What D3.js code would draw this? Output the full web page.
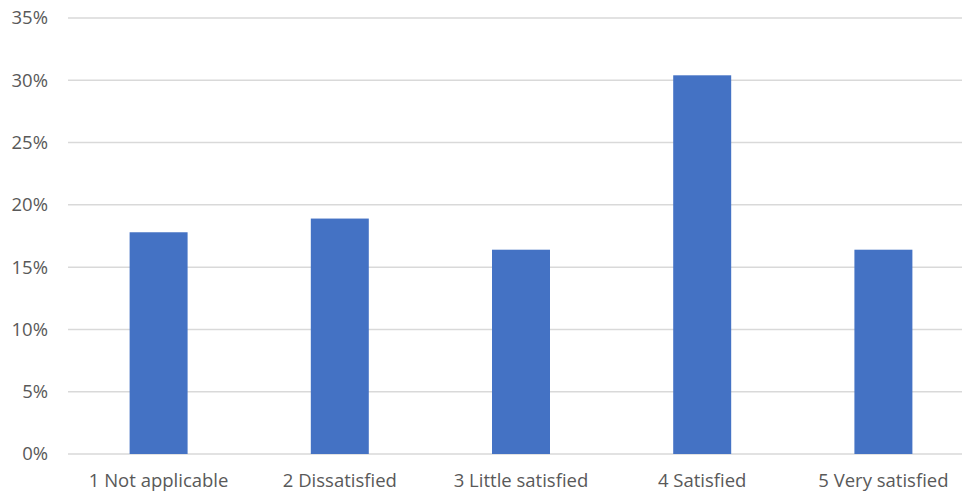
<!DOCTYPE html>
<html>
<head>
<meta charset="utf-8">
<script src="https://cdn.jsdelivr.net/npm/d3@7"></script>
<style>
  html, body { margin: 0; padding: 0; background: #fff; }
  svg { display: block; }
  text { font-family: "Open Sans", "Noto Sans", sans-serif; fill: #595959; }
</style>
</head>
<body>
<svg id="chart" width="962" height="495"></svg>
<script>
// Satisfaction responses, share of respondents
const categories = ["1 Not applicable", "2 Dissatisfied", "3 Little satisfied", "4 Satisfied", "5 Very satisfied"];
const shares = [0.178, 0.189, 0.164, 0.304, 0.164];
const yTicks = [0, 0.05, 0.10, 0.15, 0.20, 0.25, 0.30, 0.35];

const svg = d3.select("#chart");
const margin = { left: 68, right: -12, top: 18, bottom: 41 };
const W = 962, H = 495;
const fontSize = 18.5;

const x = d3.scaleBand()
  .domain(categories)
  .range([margin.left, W - margin.right])
  .paddingInner(0.68)
  .paddingOuter(0.34);

const y = d3.scaleLinear()
  .domain([0, 0.35])
  .range([H - margin.bottom, margin.top]);

// horizontal gridlines
svg.append("g")
  .selectAll("line")
  .data(yTicks)
  .join("line")
  .attr("x1", margin.left)
  .attr("x2", W)
  .attr("y1", d => y(d))
  .attr("y2", d => y(d))
  .attr("stroke", "#d9d9d9")
  .attr("stroke-width", 1.5);

// y axis labels
const yAxis = d3.axisLeft(y).tickValues(yTicks).tickFormat(d3.format(".0%")).tickSize(0).tickPadding(0);
svg.append("g")
  .attr("transform", `translate(${48},0)`)
  .call(yAxis)
  .call(g => g.select(".domain").remove())
  .call(g => g.selectAll("text").attr("font-size", fontSize).attr("font-family", null).attr("fill", "#595959"));

// bars
svg.append("g")
  .selectAll("rect")
  .data(categories.map((c, i) => ({ c, v: shares[i] })))
  .join("rect")
  .attr("x", d => x(d.c))
  .attr("width", x.bandwidth())
  .attr("y", d => y(d.v))
  .attr("height", d => y(0) - y(d.v))
  .attr("fill", "#4472c4");

// category labels
const xAxis = d3.axisBottom(x).tickSize(0).tickPadding(0);
svg.append("g")
  .attr("transform", `translate(0,${H - margin.bottom + 20})`)
  .call(xAxis)
  .call(g => g.select(".domain").remove())
  .call(g => g.selectAll("text").attr("font-size", fontSize).attr("font-family", null).attr("fill", "#595959"));
</script>
</body>
</html>
